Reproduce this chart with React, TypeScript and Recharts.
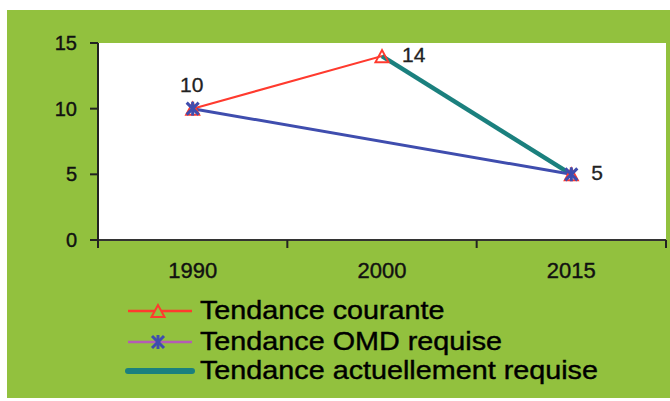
import React from 'react';
import { LineChart, Line, XAxis, YAxis, CartesianGrid, Legend, LabelList } from 'recharts';

// ---- data ----
const years = ['1990', '2000', '2015'];
const courante = [10, 14, 5];
const omdRequise = [10, null, 5];
const actuellementRequise = [null, 14, 5];
const yTicks = [0, 5, 10, 15];
const seriesNames = ['Tendance courante', 'Tendance OMD requise', 'Tendance actuellement requise'];
const labelPlacement = ['top', 'right', 'right'];

const data = years.map((y, i) => ({
  year: y,
  courante: courante[i],
  omd: omdRequise[i],
  actuelle: actuellementRequise[i],
}));

// ---- style ----
const GREEN = '#92C13E';
const RED = '#FF3A2E';
const BLUE = '#3F4DAE';
const PURPLE = '#B45CB4';
const TEAL = '#1B807E';
const FONT = 'Arial, "Liberation Sans", sans-serif';
const TICK_SIZE = 8;
const TICK_MARGIN = 14;

const TriangleDot = (props: any) => {
  const { cx, cy } = props;
  if (cx == null || cy == null) return <g />;
  return (
    <polygon
      points={`${cx},${cy - 6} ${cx - 6.5},${cy + 6} ${cx + 6.5},${cy + 6}`}
      fill="none"
      stroke={RED}
      strokeWidth={2}
    />
  );
};

const StarShape = ({ cx, cy }: { cx: number; cy: number }) => (
  <g stroke={BLUE} strokeWidth={3}>
    <line x1={cx} y1={cy - 7} x2={cx} y2={cy + 7} />
    <line x1={cx - 6} y1={cy - 6} x2={cx + 6} y2={cy + 6} />
    <line x1={cx - 6} y1={cy + 6} x2={cx + 6} y2={cy - 6} />
  </g>
);

const StarDot = (props: any) => {
  const { cx, cy } = props;
  if (cx == null || cy == null) return <g />;
  return <StarShape cx={cx} cy={cy} />;
};

const renderValueLabel = (props: any) => {
  const { x, y, value, index } = props;
  if (value == null) return null;
  const pos = labelPlacement[index];
  const common = { fontFamily: FONT, fontSize: 21, fill: '#222', stroke: '#222', strokeWidth: 0.3 };
  if (pos === 'top') {
    return (
      <text x={x - 1} y={y - 17} textAnchor="middle" {...common}>
        {value}
      </text>
    );
  }
  return (
    <text x={x + 20} y={y - 2} textAnchor="start" dominantBaseline="central" {...common}>
      {value}
    </text>
  );
};

const XTick = (props: any) => {
  const { x, y, payload, index, visibleTicksCount } = props;
  const half = payload && typeof payload.offset === 'number' ? payload.offset : 0;
  const axisY = y - TICK_SIZE - TICK_MARGIN;
  return (
    <g>
      <line x1={x - half} y1={axisY} x2={x - half} y2={axisY + TICK_SIZE} stroke="#222" strokeWidth={2} />
      {index === visibleTicksCount - 1 && (
        <line x1={x + half} y1={axisY} x2={x + half} y2={axisY + TICK_SIZE} stroke="#222" strokeWidth={2} />
      )}
      <text
        x={x}
        y={y}
        dy="0.71em"
        textAnchor="middle"
        fontFamily={FONT}
        fontSize={22}
        fill="#111"
        stroke="#111"
        strokeWidth={0.4}
      >
        {payload.value}
      </text>
    </g>
  );
};

const YTick = (props: any) => {
  const { x, y, payload } = props;
  return (
    <text
      x={x}
      y={y}
      dy="0.355em"
      textAnchor="end"
      fontFamily={FONT}
      fontSize={20}
      fill="#111"
      stroke="#111"
      strokeWidth={0.4}
    >
      {payload.value}
    </text>
  );
};

const LegendContent = () => {
  const rows = [21, 52, 81];
  return (
    <svg width={670} height={110} style={{ display: 'block' }}>
      {/* row 1 */}
      <line x1={128} y1={rows[0]} x2={192} y2={rows[0]} stroke={RED} strokeWidth={2.5} />
      <polygon
        points={`158,${rows[0] - 6} 151.5,${rows[0] + 6} 164.5,${rows[0] + 6}`}
        fill={GREEN}
        stroke={RED}
        strokeWidth={2}
      />
      {/* row 2 */}
      <line x1={128} y1={rows[1]} x2={192} y2={rows[1]} stroke={PURPLE} strokeWidth={2.5} />
      <StarShape cx={158} cy={rows[1]} />
      {/* row 3 */}
      <line x1={128} y1={rows[2]} x2={192} y2={rows[2]} stroke={TEAL} strokeWidth={6} strokeLinecap="round" />
      {seriesNames.map((name, i) => (
        <text
          key={name}
          transform={`translate(200 ${rows[i]}) scale(1.15 1)`}
          x={0}
          y={0}
          dominantBaseline="central"
          fontFamily={FONT}
          fontSize={25}
          fill="#000"
          stroke="#000"
          strokeWidth={0.4}
        >
          {name}
        </text>
      ))}
    </svg>
  );
};

export default function App() {
  return (
    <div style={{ position: 'relative', width: 670, height: 401, background: '#fff', overflow: 'hidden' }}>
      <style>{'body{margin:0}'}</style>
      <div style={{ position: 'absolute', left: 7, top: 10, width: 663, height: 388, background: GREEN }} />
      <div style={{ position: 'absolute', left: 0, top: 0 }}>
        <LineChart
          width={670}
          height={401}
          data={data}
          margin={{ top: 43, right: 4, bottom: 131, left: 0 }}
        >
          <CartesianGrid horizontal={false} vertical={false} fill="#fff" stroke="none" />
          <XAxis
            dataKey="year"
            scale="band"
            height={30}
            axisLine={{ stroke: '#333', strokeWidth: 2 }}
            tickLine={false}
            tickSize={TICK_SIZE}
            tickMargin={TICK_MARGIN}
            tick={<XTick />}
            interval={0}
          />
          <YAxis
            width={98}
            domain={[0, 15]}
            ticks={yTicks}
            type="number"
            allowDataOverflow
            axisLine={{ stroke: '#222', strokeWidth: 2 }}
            tickLine={{ stroke: '#222', strokeWidth: 2 }}
            tickSize={8}
            tickMargin={13}
            tick={<YTick />}
          />
          <Line
            dataKey="courante"
            name={seriesNames[0]}
            stroke={RED}
            strokeWidth={2}
            dot={<TriangleDot />}
            activeDot={false}
            isAnimationActive={false}
          >
            <LabelList dataKey="courante" content={renderValueLabel} />
          </Line>
          <Line
            dataKey="actuelle"
            name={seriesNames[2]}
            stroke={TEAL}
            strokeWidth={4.5}
            dot={false}
            activeDot={false}
            connectNulls
            isAnimationActive={false}
          />
          <Line
            dataKey="omd"
            name={seriesNames[1]}
            stroke={BLUE}
            strokeWidth={3}
            dot={<StarDot />}
            activeDot={false}
            connectNulls
            isAnimationActive={false}
          />
          <Legend
            layout="vertical"
            align="center"
            verticalAlign="middle"
            wrapperStyle={{ left: 0, top: 290, width: 670, height: 110 }}
            content={LegendContent}
          />
        </LineChart>
      </div>
    </div>
  );
}
